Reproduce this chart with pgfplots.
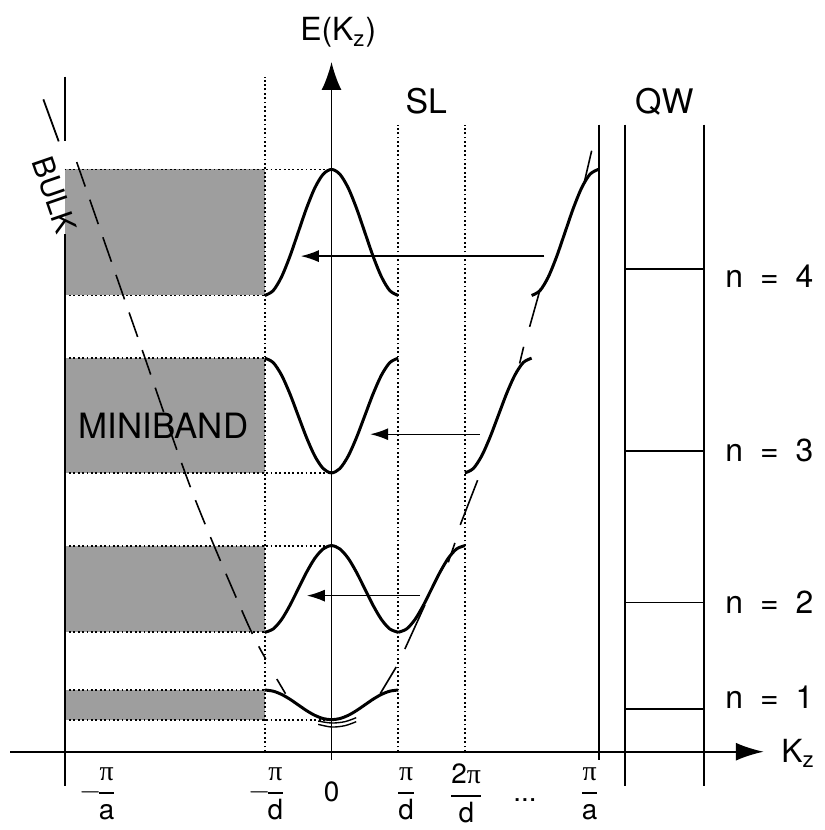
\documentclass[border=0pt]{standalone}
\usepackage{amsmath}
\usepackage{fontspec}
\setmainfont{TeX Gyre Heros}
\newfontfamily\pifont{Liberation Serif}
\usepackage{pgfplots}
\pgfplotsset{compat=1.18}
\usetikzlibrary{arrows.meta}
\definecolor{shade}{gray}{0.62}
\newcommand{\fr}[2]{$\displaystyle\genfrac{}{}{0.9pt}{0}{\hbox{#1}}{\hbox{#2}}$}
\newcommand{\mfr}[2]{$\displaystyle\llap{$-$\kern-2.5pt}\genfrac{}{}{0.9pt}{0}{\hbox{#1}}{\hbox{#2}}$}
\newcommand{\pii}{{\pifont π}}
\newcommand{\nlab}[1]{n\hspace{8.5pt}=\hspace{8.5pt}#1}
\begin{document}
\begin{tikzpicture}
\begin{axis}[x=33.5pt, y=33.5pt, xmin=-4.97, xmax=7.39, ymin=-1.12, ymax=11.27,
  hide axis, clip=false, no markers]
% invisible frame
\addplot[draw=none, forget plot] coordinates {(-4.97,-1.12) (7.39,11.27)};
% shaded minibands
\addplot[fill=shade, draw=none] coordinates {(-4,6.84) (-1,6.84) (-1,8.73) (-4,8.73)} --cycle;
\addplot[fill=shade, draw=none] coordinates {(-4,4.18) (-1,4.18) (-1,5.90) (-4,5.90)} --cycle;
\addplot[fill=shade, draw=none] coordinates {(-4,1.79) (-1,1.79) (-1,3.09) (-4,3.09)} --cycle;
\addplot[fill=shade, draw=none] coordinates {(-4,0.48) (-1,0.48) (-1,0.925) (-4,0.925)} --cycle;
% dotted band edges
\pgfplotsset{dotline/.style={line width=0.9pt, dash pattern=on 0.9pt off 1.3pt}}
\addplot[dotline] coordinates {(-4,8.73) (0,8.73)};
\addplot[dotline] coordinates {(-4,6.84) (-1,6.84)};
\addplot[dotline] coordinates {(-4,5.90) (-1,5.90)};
\addplot[dotline] coordinates {(-4,4.18) (0,4.18)};
\addplot[dotline] coordinates {(-4,3.09) (0,3.09)};
\addplot[dotline] coordinates {(-4,1.79) (-1,1.79)};
\addplot[dotline] coordinates {(-4,0.925) (-1,0.925)};
\addplot[dotline] coordinates {(-4,0.48) (0,0.48)};
% dotted zone boundaries
\addplot[dotline] coordinates {(-1,0) (-1,10.12)};
\addplot[dotline] coordinates {(1,0) (1,9.40)};
\addplot[dotline] coordinates {(2,0) (2,9.40)};
% solid verticals
\addplot[line width=1.1pt] coordinates {(-4,10.12) (-4,9.15)};
\addplot[line width=1.1pt] coordinates {(-4,7.76) (-4,-0.52)};
\addplot[line width=0.9pt] coordinates {(-4.32,9.78) (-4.09,9.15)};
\addplot[line width=1.2pt] coordinates {(4.01,9.40) (4.01,-0.12)};
\addplot[line width=1.2pt] coordinates {(4.40,9.40) (4.40,-0.52)};
\addplot[line width=1.2pt] coordinates {(5.58,9.40) (5.58,-0.52)};
% QW levels
\addplot[line width=0.8pt] coordinates {(4.40,7.24) (5.58,7.24)};
\addplot[line width=0.8pt] coordinates {(4.40,4.51) (5.58,4.51)};
\addplot[line width=0.8pt] coordinates {(4.40,2.24) (5.58,2.24)};
\addplot[line width=0.8pt] coordinates {(4.40,0.64) (5.58,0.64)};
% bulk dispersion (dashed on left)
\addplot[line width=0.8pt, dash pattern=on 13pt off 7pt, smooth] coordinates {(-3.82,8.84) (-2.9,6.2) (-2.09,3.9) (-1.28,1.97) (-0.985,1.39)};
% bulk pieces
\addplot[line width=0.8pt] coordinates {(-0.82,1.09) (-0.69,0.87)};
\addplot[line width=0.8pt] coordinates {(0.73,0.87) (0.97,1.27)};
\addplot[line width=0.8pt] coordinates {(1.10,1.54) (1.40,2.20)};
\addplot[line width=0.8pt] coordinates {(1.75,2.84) (1.85,3.13)};
\addplot[line width=0.8pt] coordinates {(1.93,3.40) (2.19,4.07)};
\addplot[line width=0.8pt] coordinates {(2.82,5.82) (2.88,6.07)};
\addplot[line width=0.8pt] coordinates {(2.97,6.37) (3.13,6.94)};
\addplot[line width=0.8pt] coordinates {(3.79,8.54) (3.90,9.01)};
\addplot[line width=0.7pt, smooth] coordinates {(-0.2,0.46) (0,0.43) (0.2,0.45) (0.37,0.51)};
\addplot[line width=0.7pt, smooth] coordinates {(-0.2,0.41) (0,0.37) (0.2,0.39) (0.37,0.45)};
% minibands, first zone
\addplot[line width=1.5pt, smooth] coordinates {(-1,6.84) (-0.875,6.912) (-0.75,7.117) (-0.625,7.423) (-0.5,7.785) (-0.375,8.147) (-0.25,8.453) (-0.125,8.658) (0,8.73) (0.125,8.658) (0.25,8.453) (0.375,8.147) (0.5,7.785) (0.625,7.423) (0.75,7.117) (0.875,6.912) (1,6.84)};
\addplot[line width=1.5pt, smooth] coordinates {(-1,5.90) (-0.875,5.835) (-0.75,5.648) (-0.625,5.369) (-0.5,5.04) (-0.375,4.711) (-0.25,4.432) (-0.125,4.245) (0,4.18) (0.125,4.245) (0.25,4.432) (0.375,4.711) (0.5,5.04) (0.625,5.369) (0.75,5.648) (0.875,5.835) (1,5.90)};
\addplot[line width=1.5pt, smooth] coordinates {(-1,1.79) (-0.875,1.84) (-0.75,1.98) (-0.625,2.191) (-0.5,2.44) (-0.375,2.689) (-0.25,2.9) (-0.125,3.04) (0,3.09) (0.125,3.04) (0.25,2.9) (0.375,2.689) (0.5,2.44) (0.625,2.191) (0.75,1.98) (0.875,1.84) (1,1.79)};
\addplot[line width=1.5pt, smooth] coordinates {(-1,0.925) (-0.875,0.908) (-0.75,0.86) (-0.625,0.788) (-0.5,0.7025) (-0.375,0.617) (-0.25,0.545) (-0.125,0.497) (0,0.48) (0.125,0.497) (0.25,0.545) (0.375,0.617) (0.5,0.7025) (0.625,0.788) (0.75,0.86) (0.875,0.908) (1,0.925)};
% extended zone
\addplot[line width=1.5pt, smooth] coordinates {(1,1.79) (1.125,1.84) (1.25,1.98) (1.375,2.191) (1.5,2.44) (1.625,2.689) (1.75,2.9) (1.875,3.04) (2,3.09)};
\addplot[line width=1.5pt, smooth] coordinates {(2,4.18) (2.125,4.245) (2.25,4.432) (2.375,4.711) (2.5,5.04) (2.625,5.369) (2.75,5.648) (2.875,5.835) (3,5.90)};
\addplot[line width=1.5pt, smooth] coordinates {(3,6.84) (3.125,6.912) (3.25,7.117) (3.375,7.423) (3.5,7.785) (3.625,8.147) (3.75,8.453) (3.875,8.658) (4,8.73)};
% arrows
\addplot[line width=0.7pt, -{Latex[length=9pt,width=6pt]}] coordinates {(3.19,7.43) (-0.46,7.43)};
\addplot[line width=0.7pt, -{Latex[length=9pt,width=6pt]}] coordinates {(2.22,4.76) (0.58,4.76)};
\addplot[line width=0.7pt, -{Latex[length=9pt,width=6pt]}] coordinates {(1.33,2.34) (-0.37,2.34)};
% axes
\addplot[line width=1pt, -{Latex[length=14pt,width=9pt]}] coordinates {(-4.82,0) (6.48,0)};
\addplot[line width=0.9pt, -{Latex[length=14pt,width=10pt]}] coordinates {(0,-0.12) (0,10.34)};
% texts
\node[font=\fontsize{16}{18}\selectfont] at (axis cs:0.10,10.78) {E(K\textsubscript{z})};
\node[font=\fontsize{16}{18}\selectfont, anchor=west] at (axis cs:6.64,-0.02) {K\textsubscript{z}};
\node[font=\fontsize{17}{19}\selectfont] at (axis cs:1.42,9.75) {SL};
\node[font=\fontsize{17}{19}\selectfont] at (axis cs:4.99,9.75) {QW};
\node[font=\fontsize{17.5}{19}\selectfont] at (axis cs:-2.52,4.88) {MINIBAND};
\node[font=\fontsize{15}{17}\selectfont, rotate=-71, inner sep=0pt] at (axis cs:-4.15,8.35) {BULK};
\node[font=\fontsize{16}{18}\selectfont, anchor=west] at (axis cs:5.80,7.13) {\nlab{4}};
\node[font=\fontsize{16}{18}\selectfont, anchor=west] at (axis cs:5.80,4.51) {\nlab{3}};
\node[font=\fontsize{16}{18}\selectfont, anchor=west] at (axis cs:5.80,2.24) {\nlab{2}};
\node[font=\fontsize{16}{18}\selectfont, anchor=west] at (axis cs:5.80,0.82) {\nlab{1}};
% tick labels
\node[font=\fontsize{14}{16}\selectfont] at (axis cs:-3.37,-0.63) {\mfr{\pii}{a}};
\node[font=\fontsize{14}{16}\selectfont] at (axis cs:-0.84,-0.63) {\mfr{\pii}{d}};
\node[font=\fontsize{14}{16}\selectfont] at (axis cs:0,-0.60) {0};
\node[font=\fontsize{14}{16}\selectfont] at (axis cs:1.12,-0.63) {\fr{\pii}{d}};
\node[font=\fontsize{14}{16}\selectfont] at (axis cs:2.02,-0.63) {\fr{2\pii}{d}};
\node[font=\fontsize{14}{16}\selectfont] at (axis cs:2.90,-0.72) {...};
\node[font=\fontsize{14}{16}\selectfont] at (axis cs:3.87,-0.63) {\fr{\pii}{a}};
\end{axis}
\end{tikzpicture}
\end{document}
